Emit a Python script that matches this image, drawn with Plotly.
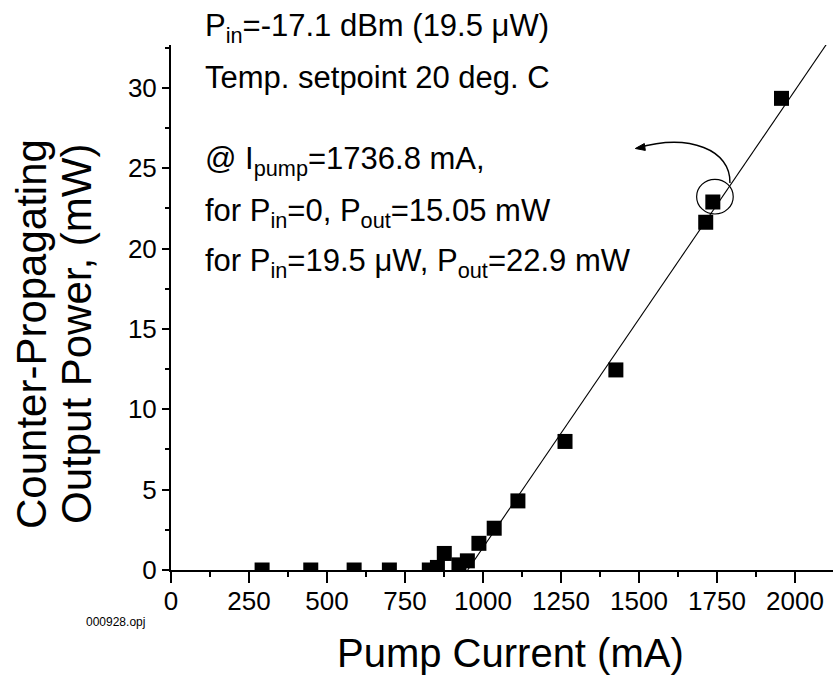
import plotly.graph_objects as go

# Measured output power of the counter-propagating signal vs. pump current
pump_current_ma = [292, 448, 587, 700, 828, 854, 876, 923, 950, 987,
                   1036, 1112, 1263, 1426, 1714, 1736.8, 1957]
output_power_mw = [0.0, 0.0, 0.0, 0.0, 0.0, 0.16, 1.03, 0.32, 0.57, 1.66,
                   2.6, 4.3, 8.0, 12.45, 21.64, 22.9, 29.35]

# Linear fit above threshold
FIT_SLOPE = 0.02845      # mW per mA
FIT_THRESHOLD = 951.0    # mA where the fit crosses zero

# Highlighted operating point
marked_current = 1736.8
marked_power = 22.9

x_range = [0, 2122]
y_range = [0, 32.67]
x_ticks = list(range(0, 2001, 250))
y_ticks = list(range(0, 31, 5))

header_lines = [
    "P<sub>in</sub>=-17.1 dBm (19.5 \u03bcW)",
    "Temp. setpoint 20 deg. C",
    "@ I<sub>pump</sub>=1736.8 mA,",
    "for P<sub>in</sub>=0, P<sub>out</sub>=15.05 mW",
    "for P<sub>in</sub>=19.5 \u03bcW, P<sub>out</sub>=22.9 mW",
]
header_baselines = [35, 87, 168, 220, 270]
x_title = "Pump Current (mA)"
y_title_lines = ["Counter-Propagating", "Output Power, (mW)"]
file_label = "000928.opj"

FONT = "Liberation Sans, Arial, sans-serif"
W, H = 833, 679
ML, MR, MT, MB = 171, 0, 45, 109
PW, PH = W - ML - MR, H - MT - MB


def px_x(px):
    return (px - ML) / PW


def px_y(py):
    return (H - MB - py) / PH


fit_x = [FIT_THRESHOLD, x_range[1]]
fit_y = [FIT_SLOPE * (x - FIT_THRESHOLD) for x in fit_x]

fig = go.Figure()
fig.add_trace(go.Scatter(
    x=fit_x, y=fit_y, mode="lines",
    line=dict(color="black", width=1.1), hoverinfo="skip", showlegend=False,
))
fig.add_trace(go.Scatter(
    x=pump_current_ma, y=output_power_mw, mode="markers",
    marker=dict(symbol="square", size=15, color="black", line=dict(width=0)),
    cliponaxis=True, showlegend=False,
))

shape_common = dict(xref="x", yref="y", xsizemode="pixel", ysizemode="pixel",
                    xanchor=marked_current, yanchor=marked_power)
fig.add_shape(type="circle", x0=-16.2, x1=20.4, y0=-12, y1=22.7,
              line=dict(color="black", width=1.2), **shape_common)
fig.add_shape(type="path", path="M17.1,19 C18.1,52 -22.9,69 -75.9,54",
              line=dict(color="black", width=1.4), **shape_common)
fig.add_shape(type="path", path="M-77.5,53.5 L-67.5,51.6 L-68.5,58.5 Z",
              fillcolor="black", line=dict(color="black", width=1), **shape_common)

annotations = []
for text, base in zip(header_lines, header_baselines):
    annotations.append(dict(
        text=text, xref="paper", yref="paper", x=px_x(203), y=px_y(base - 29),
        xanchor="left", yanchor="top", showarrow=False,
        font=dict(family=FONT, size=31, color="black"),
    ))
annotations.append(dict(
    text=x_title, xref="paper", yref="paper", x=px_x(510), y=px_y(629),
    xanchor="center", yanchor="top", showarrow=False,
    font=dict(family=FONT, size=40, color="black"),
))
for text, cx in zip(y_title_lines, [31, 76]):
    annotations.append(dict(
        text=text, xref="paper", yref="paper", x=px_x(cx), y=px_y(334),
        xanchor="center", yanchor="middle", textangle=-90, showarrow=False,
        font=dict(family=FONT, size=42, color="black"),
    ))
annotations.append(dict(
    text=file_label, xref="paper", yref="paper", x=px_x(115), y=px_y(622),
    xanchor="center", yanchor="middle", showarrow=False,
    font=dict(family=FONT, size=12, color="black"),
))

axis_common = dict(
    showline=True, linecolor="black", linewidth=2, mirror=False,
    showgrid=False, zeroline=False, ticks="outside", tickcolor="black",
    tickwidth=1.5, tickfont=dict(family=FONT, size=26, color="black"),
)
fig.update_layout(
    width=W, height=H, autosize=False,
    margin=dict(l=ML, r=MR, t=MT, b=MB, pad=0),
    paper_bgcolor="white", plot_bgcolor="white",
    xaxis=dict(range=x_range, tickmode="array", tickvals=x_ticks, ticklen=11,
               ticklabelstandoff=-4,
               minor=dict(dtick=125, tick0=0, ticks="outside", ticklen=5,
                          tickwidth=1.5, tickcolor="black"),
               **axis_common),
    yaxis=dict(range=y_range, tickmode="array", tickvals=y_ticks, ticklen=7,
               minor=dict(dtick=2.5, tick0=0, ticks="outside", ticklen=4,
                          tickwidth=1.5, tickcolor="black"),
               **axis_common),
    annotations=annotations,
)

fig.write_html("out.html")
